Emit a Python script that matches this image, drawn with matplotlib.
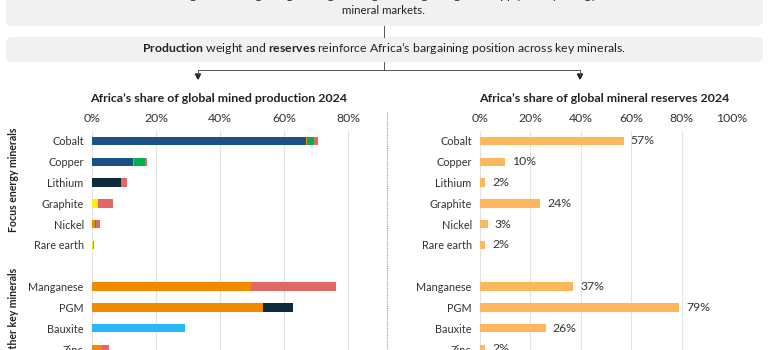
import matplotlib.pyplot as plt
from matplotlib.patches import FancyBboxPatch
import numpy as np

plt.rcParams['font.family'] = ['Lato', 'DejaVu Sans']
plt.rcParams['mathtext.fontset'] = 'custom'
plt.rcParams['mathtext.rm'] = 'Lato'
plt.rcParams['mathtext.bf'] = 'Lato:bold'

# data
minerals = ['Cobalt', 'Copper', 'Lithium', 'Graphite', 'Nickel', 'Rare earth',
            'Manganese', 'PGM', 'Bauxite', 'Zinc']
rows = [0, 1, 2, 3, 4, 5, 7, 8, 9, 10]

# production share, stacked segments (one list per colour)
dark_blue = [66.8, 12.8, 0, 0, 0, 0, 0, 0, 0, 0]
navy = [0, 0, 9.0, 0, 0, 0, 0, 0, 0, 0]
yellow = [0, 0, 0, 2.0, 0, 0.4, 0, 0, 0, 0]
orange = [0.5, 0.3, 0, 0, 0.8, 0, 49.6, 53.5, 0, 3.0]
light_blue = [0, 0, 0, 0, 0, 0, 0, 0, 29.0, 0]
green = [2.0, 3.4, 0, 0, 0.6, 0, 0, 0, 0, 0]
red = [1.3, 0.8, 2.0, 4.6, 1.2, 0.3, 26.8, 0, 0, 2.3]
navy2 = [0, 0, 0, 0, 0, 0, 0, 9.4, 0, 0]

reserves = [57, 10, 2, 24, 3, 2, 37, 79, 26, 2]

segments = [
    (dark_blue, '#1b5286'),
    (navy, '#0c2b3d'),
    (yellow, '#fff200'),
    (orange, '#f28a00'),
    (light_blue, '#2bb7f3'),
    (green, '#00b050'),
    (red, '#e06868'),
    (navy2, '#0c2b3d'),
]

W, H = 768, 350
fig = plt.figure(figsize=(W / 100, H / 100), dpi=100)

def fx(px):
    return px / W

def fy(py):
    return 1 - py / H

txt = '#222222'
grey_box = '#f1f1f1'

# header boxes
box1 = FancyBboxPatch((fx(6), fy(26)), fx(757), fy(-20) - fy(26),
                      boxstyle='round,pad=0,rounding_size=0.012',
                      transform=fig.transFigure, fc=grey_box, ec='none')
fig.patches.append(box1)
fig.text(0.5, fy(-4.6), 'Africa holds significant bargaining leverage through its weight in global supply of key energy-transition',
         ha='center', va='center', fontsize=8.6, color=txt)
fig.text(0.5, fy(11), 'mineral markets.', ha='center', va='center', fontsize=8.3, color=txt)

box2 = FancyBboxPatch((fx(6), fy(62)), fx(757), fy(37) - fy(62),
                      boxstyle='round,pad=0,rounding_size=0.012',
                      transform=fig.transFigure, fc=grey_box, ec='none')
fig.patches.append(box2)
fig.text(0.5, fy(49),
         '$\\bf{Production}$ weight and $\\bf{reserves}$ reinforce Africa\u2019s bargaining position across key minerals.',
         ha='center', va='center', fontsize=8.8, color=txt)

# connectors
lc = '#555555'
fig.add_artist(plt.Line2D([fx(384), fx(384)], [fy(26), fy(37)], color=lc, lw=0.7))
fig.add_artist(plt.Line2D([fx(384), fx(384)], [fy(62), fy(70)], color=lc, lw=0.7))
fig.add_artist(plt.Line2D([fx(198), fx(580)], [fy(70), fy(70)], color=lc, lw=0.7))
for x in (198, 580):
    fig.add_artist(plt.Line2D([fx(x), fx(x)], [fy(70), fy(75)], color=lc, lw=0.7))
    fig.add_artist(plt.Polygon([[fx(x - 2.5), fy(74)], [fx(x + 2.5), fy(74)], [fx(x), fy(79)]],
                               closed=True, color='#222222', transform=fig.transFigure))

# dotted separator
fig.add_artist(plt.Line2D([fx(387), fx(387)], [fy(112), fy(352)], color='#999999',
                          lw=0.8, ls=(0, (1, 1))))

ax_top = fy(130.6)
ax_h = 11 * 20.8 / H

# left chart: production
ax1 = fig.add_axes([fx(92), ax_top - ax_h, 85 * 3.2 / W, ax_h])
left = np.zeros(len(minerals))
for vals, col in segments:
    vals = np.array(vals)
    ax1.barh(rows, vals, left=left, height=0.4, color=col, edgecolor='none')
    left += vals
ax1.set_xlim(0, 85)
ax1.set_xticks([0, 20, 40, 60, 80])
ax1.set_xticklabels(['0%', '20%', '40%', '60%', '80%'])

# right chart: reserves
ax2 = fig.add_axes([fx(480), ax_top - ax_h, 100 * 2.52 / W, ax_h])
ax2.barh(rows, reserves, height=0.4, color='#ffb75e', edgecolor='none')
for r, v in zip(rows, reserves):
    ax2.text(v + 2.8, r, f'{v}%', va='center', ha='left', fontsize=8.8, color='#333333')
ax2.set_xlim(0, 100)
ax2.set_xticks([0, 20, 40, 60, 80, 100])
ax2.set_xticklabels(['0%', '20%', '40%', '60%', '80%', '100%'])

for ax in (ax1, ax2):
    ax.set_ylim(10.5, -0.5)
    ax.set_yticks(rows)
    ax.set_yticklabels(minerals)
    ax.xaxis.tick_top()
    ax.tick_params(axis='x', length=0, labelsize=8.8, colors='#333333', pad=5)
    ax.tick_params(axis='y', length=0, labelsize=7.8, colors='#333333', pad=6)
    ax.grid(axis='x', color='#e3e3e3', lw=0.8)
    ax.set_axisbelow(True)
    for s in ax.spines.values():
        s.set_visible(False)
    ax.patch.set_alpha(0)

fig.text(fx(219), fy(98), 'Africa\u2019s share of global mined production 2024',
         ha='center', va='center', fontsize=8.9, fontweight='bold', color=txt)
fig.text(fx(604), fy(98), 'Africa\u2019s share of global mineral reserves 2024',
         ha='center', va='center', fontsize=8.9, fontweight='bold', color=txt)

fig.text(fx(14), fy(180), 'Focus energy minerals', rotation=90, ha='center', va='center',
         fontsize=7.6, fontweight='bold', color=txt)
fig.text(fx(14), fy(312), 'Other key minerals', rotation=90, ha='center', va='center',
         fontsize=7.6, fontweight='bold', color=txt)

fig.savefig('out.png', dpi=100)
